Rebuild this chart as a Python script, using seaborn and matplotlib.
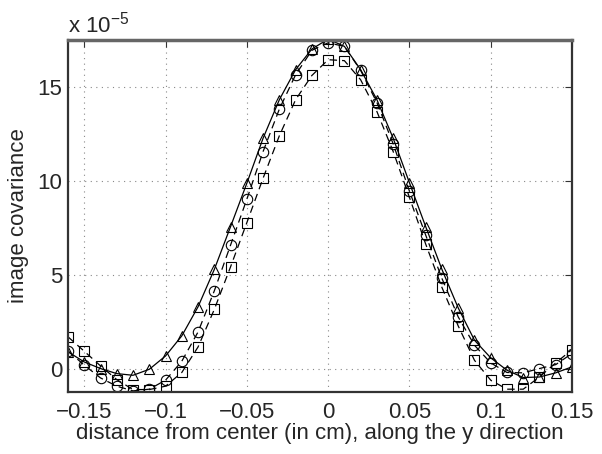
import matplotlib
matplotlib.use("Agg")
import matplotlib.pyplot as plt
import matplotlib.transforms as mtransforms
import seaborn as sns
import pandas as pd

# x positions (cm)
x = [-0.16, -0.15, -0.14, -0.13, -0.12, -0.11, -0.10, -0.09, -0.08, -0.07, -0.06,
     -0.05, -0.04, -0.03, -0.02, -0.01, 0.00, 0.01, 0.02, 0.03, 0.04, 0.05,
     0.06, 0.07, 0.08, 0.09, 0.10, 0.11, 0.12, 0.13, 0.14, 0.15]

# image covariance, in units of 1e-5
tri = [0.89, 0.35, 0.00, -0.27, -0.36, -0.04, 0.67, 1.74, 3.29, 5.28, 7.56,
       9.87, 12.27, 14.32, 15.92, 17.02, 17.55, 17.16, 15.92, 14.32, 12.27, 9.90,
       7.56, 5.28, 3.23, 1.51, 0.57, -0.09, -0.48, -0.45, -0.23, 0.09]
circ = [0.94, 0.18, -0.50, -0.94, -1.19, -1.10, -0.62, 0.39, 1.95, 4.14, 6.58,
        9.02, 11.56, 13.82, 15.65, 16.95, 17.35, 17.16, 15.88, 14.17, 11.97, 9.45,
        7.11, 4.80, 2.75, 1.24, 0.30, -0.21, -0.23, 0.00, 0.21, 0.80]
sq = [1.69, 0.92, 0.14, -0.59, -1.12, -1.12, -0.94, -0.21, 1.15, 3.15, 5.42,
      7.77, 10.14, 12.40, 14.32, 15.61, 16.45, 16.40, 15.38, 13.69, 11.56, 9.12,
      6.63, 4.32, 2.27, 0.44, -0.62, -1.10, -1.10, -0.45, 0.30, 1.01]

xticks = [-0.15, -0.1, -0.05, 0, 0.05, 0.1, 0.15]
xticklabels = ["\u22120.15", "\u22120.1", "\u22120.05", "0", "0.05", "0.1", "0.15"]
yticks = [0, 5, 10, 15]

sns.set_style("white")
plt.rcParams["font.family"] = ["Liberation Sans", "DejaVu Sans"]
plt.rcParams["mathtext.fontset"] = "custom"
plt.rcParams["mathtext.rm"] = "Liberation Sans"
plt.rcParams["mathtext.it"] = "Liberation Sans"

fig = plt.figure(figsize=(6.02, 4.54), dpi=100)
ax = fig.add_axes([68/602, 62/454, (572-68)/602, (392-40)/454])

df = pd.DataFrame({"x": x, "tri": tri, "circ": circ, "sq": sq})
common = dict(color="black", markerfacecolor="none", markeredgecolor="black",
              markeredgewidth=0.8, markersize=7.5, linewidth=0.9)
sns.lineplot(data=df, x="x", y="sq", ax=ax, marker="s", linestyle=(0, (6, 4)),
             **common)
sns.lineplot(data=df, x="x", y="circ", ax=ax, marker="o", linestyle=(0, (6, 4)),
             **common)
sns.lineplot(data=df, x="x", y="tri", ax=ax, marker="^", linestyle="-",
             **common)

ax.set_xlim(-0.16, 0.15)
ax.set_ylim(-1.25, 17.5)
ax.set_xticks(xticks)
ax.set_xticklabels(xticklabels)
ax.set_yticks(yticks)
ax.tick_params(direction="in", length=5, width=0.8, top=True, right=True,
               labelsize=16, color="#333333")
ax.tick_params(axis="x", pad=7)
ax.tick_params(axis="y", pad=4)
ax.grid(True, linestyle=(0, (1, 4)), color="#888888", linewidth=0.8)
for side in ["left", "bottom", "right"]:
    ax.spines[side].set_linewidth(1.6)
    ax.spines[side].set_color("#333333")
ax.spines["top"].set_linewidth(2.5)
ax.spines["top"].set_color("#666666")

ax.set_xlabel("distance from center (in cm), along the y direction", fontsize=16, labelpad=0)
ax.set_ylabel("image covariance", fontsize=16, labelpad=6)

offset = mtransforms.offset_copy(ax.transAxes, fig=fig, x=0, y=7, units="dots")
ax.text(0.0, 1.0, r"x 10$^{-5}$", transform=offset,
        ha="left", va="baseline", fontsize=16)

fig.savefig("out.png", dpi=100)
